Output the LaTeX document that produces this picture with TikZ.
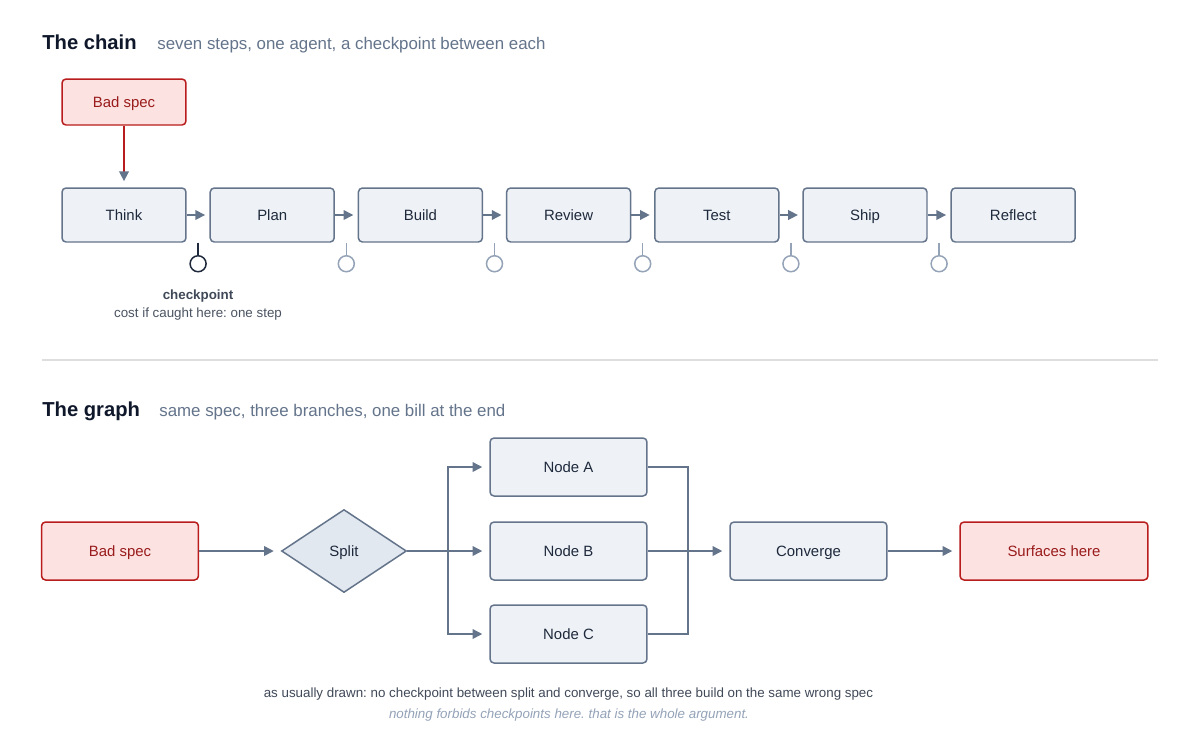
\documentclass[tikz,border=0pt]{standalone}
\usepackage{fontspec}
\setmainfont{Liberation Sans}
\usetikzlibrary{arrows.meta,positioning,calc,shapes.geometric}
\definecolor{ink}{HTML}{1E293B}
\definecolor{titleink}{HTML}{0F172A}
\definecolor{slate}{HTML}{64748B}
\definecolor{mist}{HTML}{94A3B8}
\definecolor{boxfill}{HTML}{EEF2F7}
\definecolor{splitfill}{HTML}{E2E8F0}
\definecolor{redfill}{HTML}{FDE2E2}
\definecolor{redline}{HTML}{B91C1C}
\definecolor{redtext}{HTML}{991B1B}
\definecolor{rule}{HTML}{DEDEDE}
\frenchspacing

\begin{document}
\begin{tikzpicture}[x=0.02cm,y=-0.02cm,
	stepbox/.style={draw=slate,fill=boxfill,line width=0.85pt,rounded corners=2.3pt,text=ink,minimum width=2.48cm,minimum height=1.08cm,text height=6.1pt,text depth=0pt,font=\fontsize{8.5}{10}\selectfont},
	widebox/.style={minimum width=3.14cm,minimum height=1.16cm},
	badbox/.style={draw=redline,fill=redfill,text=redtext},
	cpoint/.style={circle,draw=mist,fill=white,line width=0.85pt,minimum size=0.32cm,inner sep=0pt},
	arr/.style={draw=slate,line width=0.85pt,-{Triangle[length=5.5pt,width=5.5pt]},shorten >=2.5pt},
	conn/.style={draw=slate,line width=0.85pt},
	title/.style={anchor=base west,inner sep=0pt,text=titleink,font=\fontsize{11.5}{13}\selectfont\bfseries},
	subtitle/.style={anchor=base west,inner sep=0pt,text=slate,font=\fontsize{9.6}{11}\selectfont},
	note/.style={anchor=base,inner sep=0pt,text=ink!85,font=\fontsize{7.6}{9}\selectfont}]
	\useasboundingbox[fill=white] (0,0) rectangle (1200,741);
	\node[title] (chain) at (42,49) {The chain};
	\node[subtitle] (chainsub) at (157,49) {seven steps, one agent, a checkpoint between each};
	\node[stepbox,badbox,minimum height=0.92cm] (spec) at (124,102) {Bad spec};
	\foreach \n [count=\i] in {Think,Plan,Build,Review,Test,Ship,Reflect}
		\node[stepbox] (s\i) at ({124+148.2*(\i-1)},215) {\n};
	\draw[redline,line width=0.85pt,-{Triangle[length=5.5pt,width=5.5pt,color=slate]},shorten >=3.5pt] (spec) -- (s1);
	\foreach \i [evaluate=\i as \j using int(\i+1)] in {1,...,6}{
		\ifnum\i=1 \def\cc{ink}\else\def\cc{mist}\fi
		\draw[arr] (s\i.east) -- (s\j.west);
		\coordinate (t\i) at ($(s\i.south east)!.5!(s\j.south west)$);
		\node[cpoint,draw=\cc] (c\i) at ($(t\i)+(0,21)$) {};
		\draw[\cc,line width=0.85pt] (t\i) -- (c\i);
	}
	\node[note,font=\fontsize{7.6}{9}\selectfont\bfseries] (cplabel) at (198,299) {checkpoint};
	\node[note,text=ink!80] (cpcost) at (198,317) {cost if caught here: one step};
	\draw[rule,line width=0.8pt] (42,360) -- (1158,360);
	\node[title] (graph) at (42,416) {The graph};
	\node[subtitle] (graphsub) at (159,416) {same spec, three branches, one bill at the end};
	\node[stepbox,widebox,badbox] (bad) at (120,551) {Bad spec};
	\node[diamond,draw=slate,fill=splitfill,line width=0.85pt,inner sep=0pt,aspect=1.5,minimum width=2.5cm,minimum height=1.66cm,text=ink,text height=6.1pt,text depth=0pt,font=\fontsize{8.5}{10}\selectfont] (split) at (344,551) {Split};
	\node[stepbox,widebox] (nA) at (568.5,467) {Node A};
	\node[stepbox,widebox] (nB) at (568.5,551) {Node B};
	\node[stepbox,widebox] (nC) at (568.5,634) {Node C};
	\node[stepbox,widebox] (conv) at (808.5,551) {Converge};
	\node[stepbox,widebox,badbox,minimum width=3.76cm] (surf) at (1054,551) {Surfaces here};
	\coordinate (fork) at (448,551);
	\coordinate (join) at (688,551);
	\draw[arr,shorten >=4pt] (bad) -- (split);
	\draw[arr,shorten >=4pt] (split.east) -- (nB.west);
	\draw[arr,shorten >=4pt] (fork) |- (nA.west);
	\draw[arr,shorten >=4pt] (fork) |- (nC.west);
	\draw[conn] (nA.east) -| (join);
	\draw[conn] (nC.east) -| (join);
	\draw[arr,shorten >=4pt] (nB.east) -- (conv.west);
	\draw[arr,shorten >=4pt] (conv) -- (surf);
	\node[note,text=ink!85] (usual) at (568.5,697) {as usually drawn: no checkpoint between split and converge, so all three build on the same wrong spec};
	\node[note,text=mist,font=\fontsize{7.6}{9}\selectfont\itshape] (argue) at (569,718) {nothing forbids checkpoints here. that is the whole argument.};
\end{tikzpicture}
\end{document}
